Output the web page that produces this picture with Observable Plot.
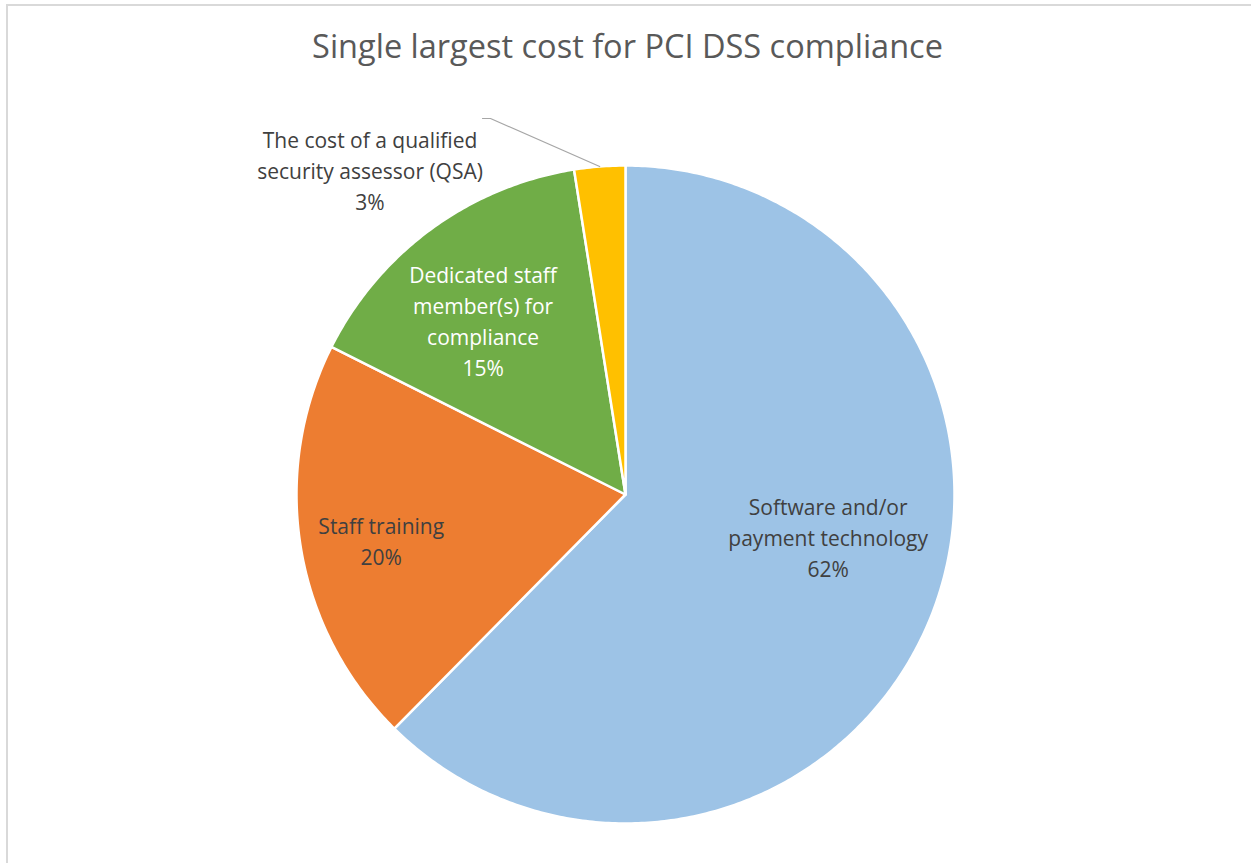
<!DOCTYPE html>
<html>
<head>
<meta charset="utf-8">
<script src="https://cdn.jsdelivr.net/npm/d3@7"></script>
<script src="https://cdn.jsdelivr.net/npm/@observablehq/plot@0.6"></script>
<style>
  html, body { margin: 0; padding: 0; background: #fff; overflow: hidden; }
  #frame { position: absolute; left: 6px; top: 4px; width: 1300px; height: 900px; border: 2px solid #d9d9d9; box-sizing: border-box; }
  #title { position: absolute; left: 2px; top: 0; width: 1251px; height: 92px; text-align: center; font-family: "Open Sans", sans-serif; font-size: 32.5px; color: #595959; line-height: 92px; }
  #chart { position: absolute; left: 0; top: 90px; }
</style>
</head>
<body>
<div id="frame"></div>
<div id="title">Single largest cost for PCI DSS compliance</div>
<div id="chart"></div>
<script>
const categories = [
  "Software and/or payment technology",
  "Staff training",
  "Dedicated staff member(s) for compliance",
  "The cost of a qualified security assessor (QSA)"
];
const labelLines = [
  "Software and/or\npayment technology",
  "Staff training",
  "Dedicated staff\nmember(s) for\ncompliance",
  "The cost of a qualified\nsecurity assessor (QSA)"
];
const values = [62.4, 20.0, 15.1, 2.5];
const colors = ["#9DC3E6", "#ED7D31", "#70AD47", "#FFC000"];

const W = 1251, H = 773, R = 329, CX = 625, CY = 404;

const total = d3.sum(values);
let acc = 0;
const slices = values.map((v, i) => {
  const a0 = acc / total * 2 * Math.PI;
  acc += v;
  const a1 = acc / total * 2 * Math.PI;
  return {cat: categories[i], label: labelLines[i], value: v, a0, a1, mid: (a0 + a1) / 2, i};
});

// polygon points for each slice (unit radius, angle clockwise from top)
const pts = [];
for (const s of slices) {
  pts.push({cat: s.cat, x: 0, y: 0});
  const n = Math.max(4, Math.ceil((s.a1 - s.a0) / 0.01));
  for (let k = 0; k <= n; k++) {
    const a = s.a0 + (s.a1 - s.a0) * k / n;
    pts.push({cat: s.cat, x: Math.sin(a), y: Math.cos(a)});
  }
  pts.push({cat: s.cat, x: 0, y: 0});
}

// label layout (pixel offsets from point at mid-angle, r=0.62)
const layout = [
  {r: 0.62, dx: 14, dy: -36, fill: "#404040"},
  {r: 0.62, dx: -43, dy: 12, fill: "#404040"},
  {r: 0.62, dx: -22, dy: -10, fill: "#ffffff"},
  {r: 1.25, dx: 0, dy: -3, fill: "#404040"}
];
const labels = slices.map((s, i) => {
  const L = layout[i];
  const ang = i === 3 ? (321.6 / 180 * Math.PI) : s.mid;
  return {
    x: L.r * Math.sin(ang), y: L.r * Math.cos(ang), dx: L.dx, dy: L.dy, fill: L.fill,
    text: s.label + "\n" + Math.round(s.value / total * 100) + "%"
  };
});

// leader line for QSA label
const q = slices[3];
const qEnd = {x: Math.sin(q.mid), y: Math.cos(q.mid)};
const qStartPx = [{px: 482, py: 118 - 90}, {px: 490, py: 118 - 90}];
const leader = [
  ...qStartPx.map(p => ({x: (p.px - CX) / R, y: (CY - p.py) / R})),
  qEnd
];

const textMarks = labels.map(l => Plot.text([l], {
  x: "x", y: "y", text: "text", dx: l.dx, dy: l.dy, fill: l.fill,
  fontSize: 21, lineHeight: 1.48, textAnchor: "middle",
  fontFamily: "Open Sans, sans-serif"
}));

const chart = Plot.plot({
  width: W, height: H,
  margin: 0,
  x: {domain: [-CX / R, (W - CX) / R], axis: null},
  y: {domain: [-(H - CY) / R, CY / R], axis: null},
  color: {domain: categories, range: colors},
  style: {background: "transparent", fontFamily: "Open Sans, sans-serif"},
  marks: [
    Plot.line(pts, {x: "x", y: "y", z: "cat", fill: "cat", stroke: "white", strokeWidth: 2.5, strokeLinejoin: "round", curve: "linear"}),
    Plot.line(leader, {x: "x", y: "y", stroke: "#a6a6a6", strokeWidth: 1.2, curve: "linear"}),
    ...textMarks
  ]
});
document.getElementById("chart").appendChild(chart);
</script>
</body>
</html>
